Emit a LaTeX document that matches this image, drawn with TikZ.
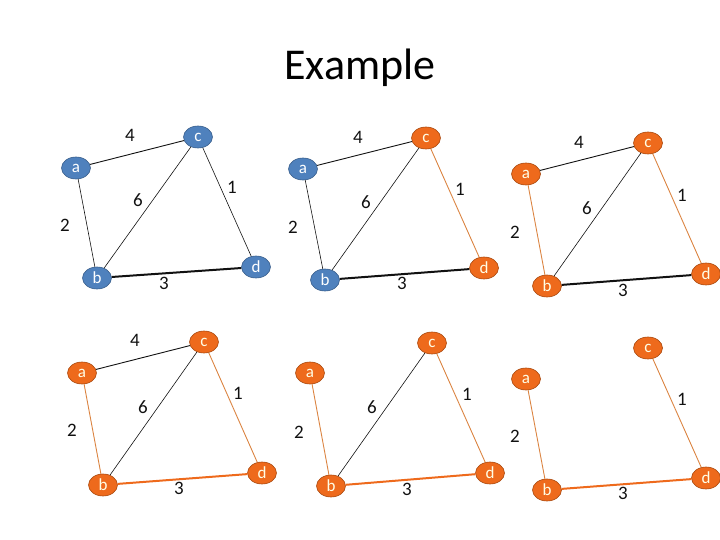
\documentclass[tikz,border=0pt]{standalone}
\usepackage{fontspec}
\setmainfont{Carlito}
\usepackage{tikz}
\usetikzlibrary{shapes.geometric}
\definecolor{exBlue}{HTML}{4F81BD}
\definecolor{exBlueLine}{HTML}{385D8A}
\definecolor{exOrange}{HTML}{EE6A1C}
\definecolor{exOrangeLine}{HTML}{A8480E}
\definecolor{exOrangeEdge}{HTML}{DB8442}
\definecolor{exInk}{HTML}{111111}
\tikzset{
  ex vertex/.style={ellipse, minimum width=29pt, minimum height=22pt,
    inner sep=0pt, line width=0.6pt, text=white, font=\fontsize{17}{17}\selectfont},
  ex blue/.style={ex vertex, fill=exBlue, draw=exBlueLine},
  ex orange/.style={ex vertex, fill=exOrange, draw=exOrangeLine, text=white!90!yellow},
  ex edge/.style={draw=exInk, line width=0.6pt},
  ex heavy/.style={draw=exInk, line width=2pt},
  ex tree/.style={draw=exOrangeEdge, line width=0.9pt},
  ex tree heavy/.style={draw=exOrange, line width=2pt},
  ex weight/.style={font=\fontsize{19}{19}\selectfont, text=exInk, inner sep=0pt}
}
\begin{document}
\begin{tikzpicture}[x=1pt,y=-1pt]
\useasboundingbox (0,0) rectangle (720,540);
\node[font=\fontsize{44}{44}\selectfont] (title) at (360,68) {Example};

% panel 1
\node[ex blue] (a1) at (76,168) {a};
\node[ex blue] (b1) at (97,278) {b};
\node[ex blue] (c1) at (198,137) {c};
\node[ex blue] (d1) at (256,267) {d};
\draw[ex edge, line width=0.9pt] (a1) -- (c1);
\draw[ex edge] (a1) -- (b1);
\draw[ex edge] (b1) -- (c1);
\draw[ex edge] (c1) -- (d1);
\draw[ex heavy] (b1) -- (d1);
\node[ex weight] (w41) at (130,135) {4};
\node[ex weight] (w21) at (65,225) {2};
\node[ex weight] (w61) at (138,200) {6};
\node[ex weight] (w11) at (232,187) {1};
\node[ex weight] (w31) at (164,283) {3};

% panel 2
\node[ex blue] (a2) at (303,169) {a};
\node[ex blue] (b2) at (325,280) {b};
\node[ex orange] (c2) at (426,138) {c};
\node[ex orange] (d2) at (484,268) {d};
\draw[ex edge, line width=0.9pt] (a2) -- (c2);
\draw[ex edge] (a2) -- (b2);
\draw[ex edge] (b2) -- (c2);
\draw[ex tree] (c2) -- (d2);
\draw[ex heavy] (b2) -- (d2);
\node[ex weight] (w42) at (358,137) {4};
\node[ex weight] (w22) at (293,227) {2};
\node[ex weight] (w62) at (366,202) {6};
\node[ex weight] (w12) at (460,189) {1};
\node[ex weight] (w32) at (402,283) {3};

% panel 3
\node[ex orange] (a3) at (526,174) {a};
\node[ex orange] (b3) at (547,286) {b};
\node[ex orange] (c3) at (648,143) {c};
\node[ex orange] (d3) at (706,274) {d};
\draw[ex edge, line width=0.9pt] (a3) -- (c3);
\draw[ex tree] (a3) -- (b3);
\draw[ex edge] (b3) -- (c3);
\draw[ex tree] (c3) -- (d3);
\draw[ex heavy] (b3) -- (d3);
\node[ex weight] (w43) at (579,142) {4};
\node[ex weight] (w23) at (515,232) {2};
\node[ex weight] (w63) at (587,208) {6};
\node[ex weight] (w13) at (682,195) {1};
\node[ex weight] (w33) at (623,290) {3};

% panel 4
\node[ex orange] (a4) at (82,373) {a};
\node[ex orange] (b4) at (103,485) {b};
\node[ex orange] (c4) at (204,342) {c};
\node[ex orange] (d4) at (262,473) {d};
\draw[ex edge, line width=0.9pt] (a4) -- (c4);
\draw[ex tree] (a4) -- (b4);
\draw[ex edge] (b4) -- (c4);
\draw[ex tree] (c4) -- (d4);
\draw[ex tree heavy] (b4) -- (d4);
\node[ex weight] (w44) at (135,340) {4};
\node[ex weight] (w24) at (72,430) {2};
\node[ex weight] (w64) at (143,407) {6};
\node[ex weight] (w14) at (238,393) {1};
\node[ex weight] (w34) at (179,488) {3};

% panel 5
\node[ex orange] (a5) at (310,373) {a};
\node[ex orange] (b5) at (331,486) {b};
\node[ex orange] (c5) at (432,343) {c};
\node[ex orange] (d5) at (490,473) {d};
\draw[ex tree] (a5) -- (b5);
\draw[ex edge] (b5) -- (c5);
\draw[ex tree] (c5) -- (d5);
\draw[ex tree heavy] (b5) -- (d5);
\node[ex weight] (w25) at (299,432) {2};
\node[ex weight] (w65) at (372,407) {6};
\node[ex weight] (w15) at (467,394) {1};
\node[ex weight] (w35) at (407,489) {3};

% panel 6
\node[ex orange] (a6) at (526,379) {a};
\node[ex orange] (b6) at (547,490) {b};
\node[ex orange] (c6) at (648,348) {c};
\node[ex orange] (d6) at (706,478) {d};
\draw[ex tree] (a6) -- (b6);
\draw[ex tree] (c6) -- (d6);
\draw[ex tree heavy] (b6) -- (d6);
\node[ex weight] (w26) at (515,436) {2};
\node[ex weight] (w16) at (682,399) {1};
\node[ex weight] (w36) at (623,493) {3};
\end{tikzpicture}
\end{document}
